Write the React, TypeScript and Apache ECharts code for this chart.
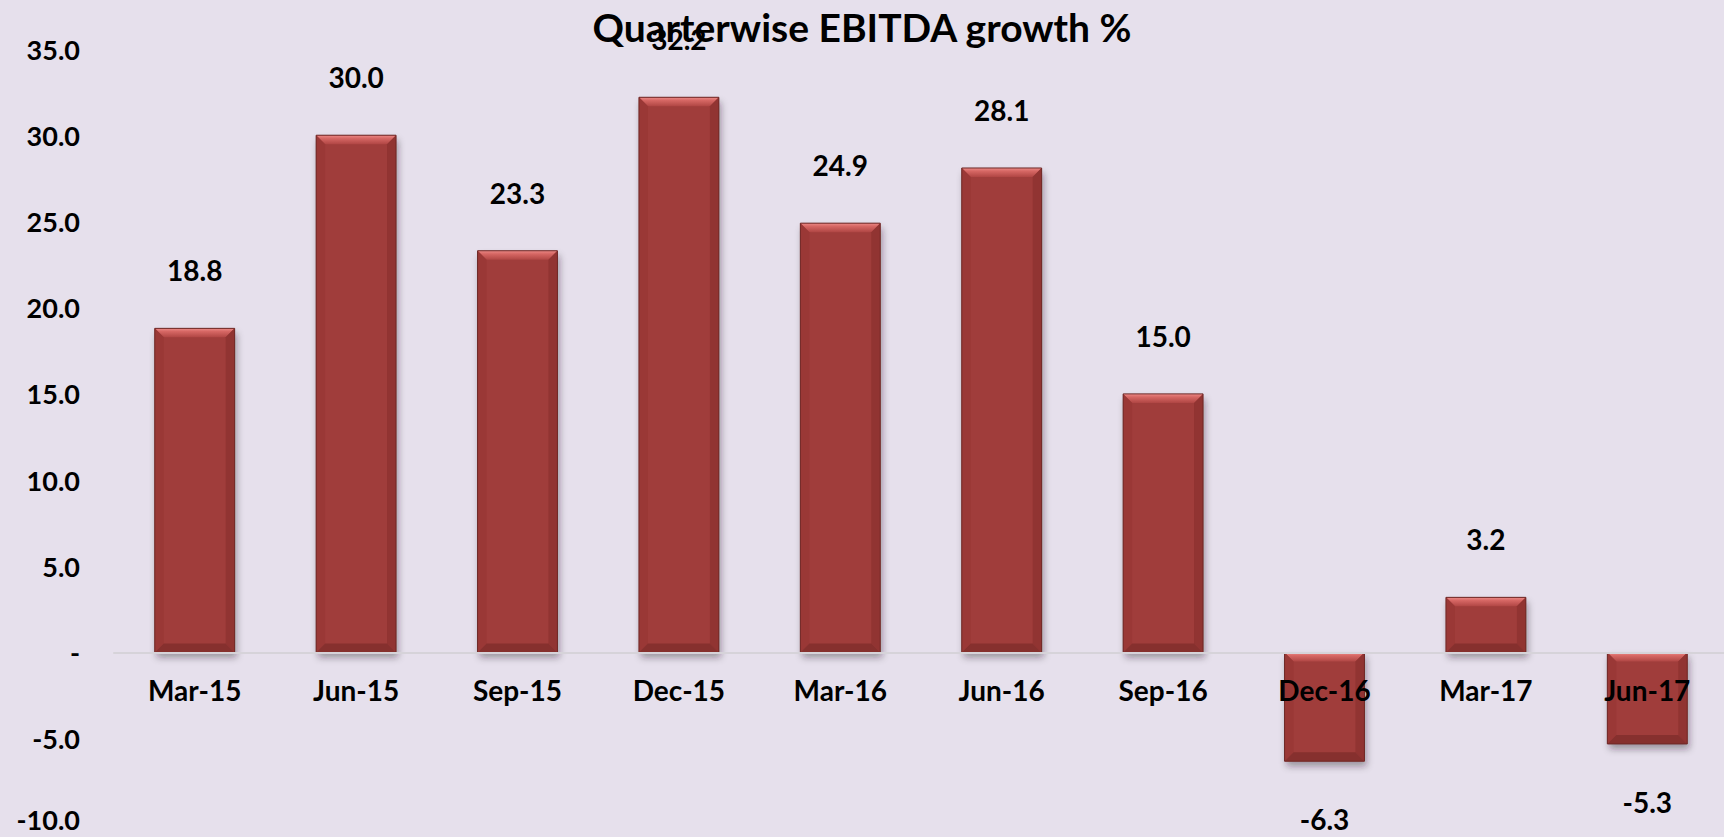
import React, { useEffect, useRef } from "react";
import * as echarts from "echarts";

const categories = ["Mar-15", "Jun-15", "Sep-15", "Dec-15", "Mar-16", "Jun-16", "Sep-16", "Dec-16", "Mar-17", "Jun-17"];
const growth = [18.8, 30.0, 23.3, 32.2, 24.9, 28.1, 15.0, -6.3, 3.2, -5.3];
const yMin = -10;
const yMax = 35;
const yStep = 5;
const titleText = "Quarterwise EBITDA growth %";

const FONT = "Lato, 'Open Sans', sans-serif";
const W = 1724;
const H = 837;
const GRID = { left: 114, right: -4, top: 49, bottom: 12 };
const BAR_FRACTION = 0.495;
const BEVEL = 9;

export default function App() {
  const ref = useRef<HTMLDivElement>(null);
  useEffect(() => {
    if (!ref.current) return;
    const chart = echarts.init(ref.current, null, { renderer: "svg" });
    const plotH = H - GRID.top - GRID.bottom;
    const zeroFromBottom = ((0 - yMin) / (yMax - yMin)) * plotH;

    const renderBar = (params: any, api: any) => {
      const idx = api.value(0);
      const v = api.value(1);
      const p1 = api.coord([idx, v]);
      const p0 = api.coord([idx, 0]);
      const w = api.size([1, 0])[0] * BAR_FRACTION;
      const x0 = p1[0] - w / 2;
      const x1 = p1[0] + w / 2;
      const top = Math.min(p1[1], p0[1]);
      const bot = Math.max(p1[1], p0[1]);
      const b = Math.min(BEVEL, (bot - top) / 2);
      return {
        type: "group",
        children: [
          {
            type: "rect",
            shape: { x: x0, y: top, width: w, height: bot - top },
            style: {
              fill: "#a03c3a",
              shadowBlur: 7,
              shadowOffsetX: 2,
              shadowOffsetY: 5,
              shadowColor: "rgba(40,20,40,0.4)",
            },
          },
          {
            type: "polygon",
            shape: { points: [[x0, top], [x1, top], [x1 - b, top + b], [x0 + b, top + b]] },
            style: {
              fill: new echarts.graphic.LinearGradient(0, 0, 0, 1, [
                { offset: 0, color: "#ec8a87" },
                { offset: 0.35, color: "#d66764" },
                { offset: 1, color: "#b04644" },
              ]),
            },
          },
          {
            type: "polygon",
            shape: { points: [[x0, top], [x0 + b, top + b], [x0 + b, bot - b], [x0, bot]] },
            style: { fill: "#9a3836" },
          },
          {
            type: "polygon",
            shape: { points: [[x1, top], [x1 - b, top + b], [x1 - b, bot - b], [x1, bot]] },
            style: { fill: "#913432" },
          },
          {
            type: "polygon",
            shape: { points: [[x0, bot], [x1, bot], [x1 - b, bot - b], [x0 + b, bot - b]] },
            style: { fill: "#86302e" },
          },
          {
            type: "rect",
            shape: { x: x0, y: top, width: w, height: bot - top },
            style: { fill: "none", stroke: "#6e2826", lineWidth: 1 },
          },
        ],
      };
    };

    const yLabelStyle = { fontFamily: FONT, fontWeight: "bold" as const, fontSize: 27, color: "#000" };

    chart.setOption({
      animation: false,
      backgroundColor: "#e6e0ec",
      title: {
        text: titleText,
        left: "center",
        top: 2,
        textStyle: { fontFamily: FONT, fontWeight: "bold", fontSize: 39, color: "#000" },
      },
      grid: { ...GRID, containLabel: false, outerBoundsMode: "none" },
      xAxis: {
        type: "category",
        data: categories,
        z: 10,
        offset: -zeroFromBottom,
        axisLine: { onZero: false, lineStyle: { color: "#d6d3d9", width: 2 } },
        axisTick: { show: false },
        axisLabel: {
          margin: 23,
          fontFamily: FONT,
          fontWeight: "bold",
          fontSize: 28,
          color: "#000",
          interval: 0,
        },
      },
      yAxis: {
        type: "value",
        min: yMin,
        max: yMax,
        interval: yStep,
        axisLine: { show: false },
        axisTick: { show: false },
        splitLine: { show: false },
        axisLabel: {
          margin: 34,
          ...yLabelStyle,
          formatter: (v: number) =>
            v === 0 ? "-" : v === yMin ? `{low|${v.toFixed(1)}}` : v.toFixed(1),
          rich: {
            low: { ...yLabelStyle, padding: [0, 0, 12, 0] },
          },
        },
      },
      series: [
        {
          type: "custom",
          renderItem: renderBar,
          data: growth.map((v, i) => [i, v]),
          encode: { x: 0, y: 1 },
          z: 2,
        },
        {
          type: "bar",
          barWidth: `${BAR_FRACTION * 100}%`,
          z: 3,
          data: growth.map((v) => ({
            value: v,
            label: { position: v < 0 ? "bottom" : "top" },
          })),
          itemStyle: { color: "rgba(0,0,0,0)" },
          label: {
            show: true,
            distance: 44,
            fontFamily: FONT,
            fontWeight: "bold",
            fontSize: 28,
            color: "#000",
            formatter: (p: any) => Number(p.value).toFixed(1),
          },
        },
      ],
    });
    return () => chart.dispose();
  }, []);
  return (
    <div
      ref={ref}
      style={{ position: "fixed", left: 0, top: 0, width: W, height: H }}
    />
  );
}
